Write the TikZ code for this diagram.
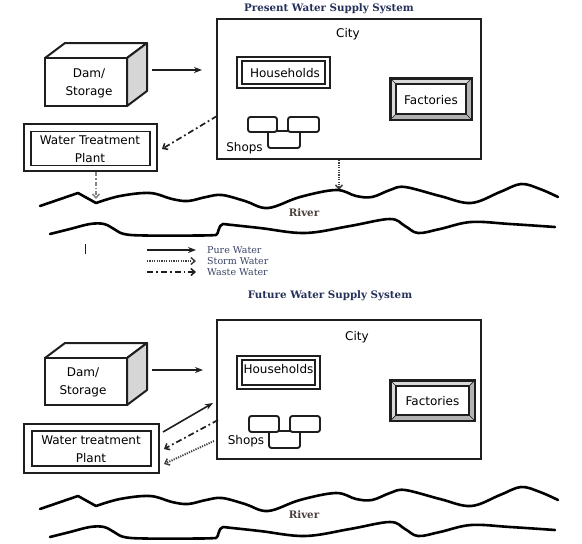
\documentclass[tikz,border=0pt]{standalone}
\usepackage{fontspec}
\setmainfont{DejaVu Sans}
\newfontfamily\seriffont{DejaVu Serif}
\usetikzlibrary{arrows.meta}
\definecolor{ink}{HTML}{1E1E1E}
\definecolor{titleblue}{HTML}{26315A}
\definecolor{legendblue}{HTML}{3A4466}
\definecolor{rivertxt}{HTML}{4A3F3A}
\definecolor{facegray}{HTML}{D6D6D6}
\begin{document}
\begin{tikzpicture}[x=1pt,y=-1pt,
  box/.style={draw=ink,line width=2pt,fill=white,inner sep=0pt},
  thinbox/.style={draw=ink,line width=1.6pt,fill=white,inner sep=0pt},
  shopbox/.style={draw=ink,line width=1.9pt,fill=white,rounded corners=2.5pt},
  lbl/.style={font=\fontsize{12}{18}\selectfont,text=black,align=center,inner sep=0pt},
  ttl/.style={font=\seriffont\bfseries\fontsize{10.3}{12}\selectfont,text=titleblue},
  rivlbl/.style={font=\seriffont\bfseries\fontsize{10.3}{12}\selectfont,text=rivertxt},
  leg/.style={anchor=west,font=\seriffont\fontsize{9.5}{11}\selectfont,text=legendblue,inner sep=0pt},
  pure/.style={draw=ink,line width=1.6pt,-{Stealth[length=8pt,width=6pt]}},
  storm/.style={draw=ink!85,line width=1.9pt,dash pattern=on 1.2pt off 1.2pt,-{Straight Barb[length=4pt,width=7pt,line width=1.5pt]}},
  waste/.style={draw=ink,line width=1.7pt,dash pattern=on 6pt off 3pt on 1.8pt off 3pt,-{Straight Barb[length=4pt,width=7pt,line width=1.5pt]}},
  wastegray/.style={draw=ink!55,line width=2.2pt,dash pattern=on 4pt off 2pt on 1.5pt off 2pt,-{Straight Barb[length=4pt,width=7pt,line width=1.5pt]}},
  riverline/.style={draw=black,line width=2.6pt,line cap=round,line join=round},
]
\useasboundingbox[fill=white] (0,0) rectangle (582,544);

% ================= PRESENT =================
\node[ttl] (title1) at (329,9) {Present Water Supply System};

% City box
\node[box,minimum width=264pt,minimum height=140pt] (city1) at (349,89) {};
\node[lbl] (citylbl1) at (348,34) {City};

% Dam
\filldraw[fill=white,draw=ink,line width=2pt,line join=round] (45,58) -- (65,43) -- (147,43) -- (127,58) -- cycle;
\filldraw[fill=facegray,draw=ink,line width=2pt,line join=round] (127,58) -- (147,43) -- (147,91) -- (127,106) -- cycle;
\node[box,minimum width=82pt,minimum height=48pt] (dam1) at (86,82) {};
\node[lbl] (damlbl1) at (89,83) {Dam/\\Storage};

% Households
\node[box,minimum width=93pt,minimum height=31pt] (hh1o) at (283.5,72.5) {};
\node[thinbox,minimum width=83pt,minimum height=23pt] (hh1) at (283.5,72.5) {};
\node[lbl] (hhlbl1) at (285,73.5) {Households};

% Factories (bevelled)
\node[draw=ink,line width=1.6pt,fill=gray!30,inner sep=0pt,minimum width=80pt,minimum height=40pt] (fa1o) at (431,99) {};
\fill[gray!60] (fa1o.north east) -- (fa1o.south east) -- (fa1o.south west) -- ++(5,-5) -- ++(70,0) -- ++(0,-30) -- cycle;
\node[thinbox,minimum width=70pt,minimum height=30pt] (fa1) at (431,99) {};
\draw[ink,line width=0.7pt] (fa1o.north west) -- (fa1.north west) (fa1o.north east) -- (fa1.north east) (fa1o.south west) -- (fa1.south west) (fa1o.south east) -- (fa1.south east);
\draw[ink,line width=1.6pt] (fa1o.north west) rectangle (fa1o.south east);
\node[lbl] (falbl1) at (431,100.5) {Factories};

% Shops
\draw[shopbox] (268,131) rectangle (300,148);
\draw[shopbox] (248,117) rectangle (277,132);
\draw[shopbox] (288,117) rectangle (319,132);
\node[lbl] (shops1) at (244.5,148.5) {Shops};

% Water treatment plant
\node[box,line width=2.2pt,minimum width=133pt,minimum height=47pt] (wtp1o) at (90.5,147.5) {};
\node[box,line width=1.8pt,minimum width=119pt,minimum height=34pt] (wtp1) at (90.5,148.5) {};
\node[lbl] (wtplbl1) at (90,149) {Water Treatment\\Plant};

% Arrows
\coordinate (a1s) at (152,70);
\coordinate (a1e) at (202,70);
\draw[pure] (a1s) -- (a1e);
\coordinate (w1s) at (217,116);
\coordinate (w1e) at (162,149);
\draw[waste] (w1s) -- (w1e);
\coordinate (g1s) at (96,172);
\coordinate (g1e) at (96,199);
\draw[wastegray] (g1s) -- (g1e);
\coordinate (s1s) at (339,160);
\coordinate (s1e) at (339,190);
\draw[storm] (s1s) -- (s1e);

% River
\newcommand{\myriver}{%
  \draw[riverline] (40,206) -- (78,193) -- (96,203)
    plot[smooth,tension=0.6] coordinates {(96,203) (120,196) (150,193) (172,199) (188,201) (206,197) (222,195) (245,201) (268,208) (300,197) (336,190) (356,196) (372,197) (390,190) (405,187) (440,196) (471,203) (500,192) (521,184) (540,189) (558,197)};
  \draw[riverline] plot[smooth,tension=0.6] coordinates {(50,234) (70,229) (90,224) (104,224) (114,229) (124,234) (145,235.5) (200,235.5) (216,235)}
    .. controls (219,234) and (218,225) .. (223,224)
    plot[smooth,tension=0.6] coordinates {(223,224) (260,228) (305,233) (350,226) (390,219) (405,226) (418,233) (440,229) (471,222) (510,224) (555,227)};
}
\myriver
\node[rivlbl] (river1) at (304,213) {River};

% Legend
\draw[ink,line width=0.9pt] (85,244) -- (85,254);
\coordinate (l1s) at (147,250); \coordinate (l1e) at (196,250);
\coordinate (l2s) at (147,261); \coordinate (l2e) at (196,261);
\coordinate (l3s) at (147,272); \coordinate (l3e) at (196,272);
\draw[pure] (l1s) -- (l1e);
\draw[storm] (l2s) -- (l2e);
\draw[waste] (l3s) -- (l3e);
\node[leg] (leg1) at (207,250) {Pure Water};
\node[leg] (leg2) at (207,261) {Storm Water};
\node[leg] (leg3) at (207,272) {Waste Water};

% ================= FUTURE =================
\node[ttl] (title2) at (330,296) {Future Water Supply System};

\node[box,minimum width=264pt,minimum height=139pt] (city2) at (349,389.5) {};
\node[lbl] (citylbl2) at (357,337) {City};

% Dam
\filldraw[fill=white,draw=ink,line width=2pt,line join=round] (45,358) -- (65,343) -- (147,343) -- (127,358) -- cycle;
\filldraw[fill=facegray,draw=ink,line width=2pt,line join=round] (127,358) -- (147,343) -- (147,390) -- (127,405) -- cycle;
\node[box,minimum width=82pt,minimum height=47pt] (dam2) at (86,381.5) {};
\node[lbl] (damlbl2) at (83,382) {Dam/\\Storage};

% Households
\node[box,minimum width=83pt,minimum height=33pt] (hh2o) at (278.5,372.5) {};
\node[thinbox,minimum width=73pt,minimum height=25pt] (hh2) at (278.5,372.5) {};
\node[lbl] (hhlbl2) at (278.5,369.5) {Households};

% Factories
\node[draw=ink,line width=1.6pt,fill=gray!30,inner sep=0pt,minimum width=83pt,minimum height=39pt] (fa2o) at (432.5,400.5) {};
\fill[gray!60] (fa2o.north east) -- (fa2o.south east) -- (fa2o.south west) -- ++(5,-5) -- ++(73,0) -- ++(0,-29) -- cycle;
\node[thinbox,minimum width=73pt,minimum height=29pt] (fa2) at (432.5,400.5) {};
\draw[ink,line width=0.7pt] (fa2o.north west) -- (fa2.north west) (fa2o.north east) -- (fa2.north east) (fa2o.south west) -- (fa2.south west) (fa2o.south east) -- (fa2.south east);
\draw[ink,line width=1.6pt] (fa2o.north west) rectangle (fa2o.south east);
\node[lbl] (falbl2) at (432.5,401.5) {Factories};

% Shops
\draw[shopbox] (269,431) rectangle (300,448);
\draw[shopbox] (249,416) rectangle (279,432);
\draw[shopbox] (290,416) rectangle (320,432);
\node[lbl] (shops2) at (246,441.5) {Shops};

% Water treatment plant
\node[box,line width=2.2pt,minimum width=135pt,minimum height=49pt] (wtp2o) at (91.5,448.5) {};
\node[box,line width=1.8pt,minimum width=119pt,minimum height=35pt] (wtp2) at (91.5,448.5) {};
\node[lbl] (wtplbl2) at (91,449) {Water treatment\\Plant};

% Arrows
\coordinate (a2s) at (152,370);
\coordinate (a2e) at (203,370);
\draw[pure] (a2s) -- (a2e);
\coordinate (p2s) at (163,432);
\coordinate (p2e) at (213,403);
\draw[pure] (p2s) -- (p2e);
\coordinate (w2s) at (218,420);
\coordinate (w2e) at (164,449);
\draw[waste] (w2s) -- (w2e);
\coordinate (s2s) at (214,441);
\coordinate (s2e) at (164,464);
\draw[storm] (s2s) -- (s2e);

% River
\begin{scope}[shift={(0,303)}]
\myriver
\end{scope}
\node[rivlbl] (river2) at (304,515) {River};

\end{tikzpicture}
\end{document}
